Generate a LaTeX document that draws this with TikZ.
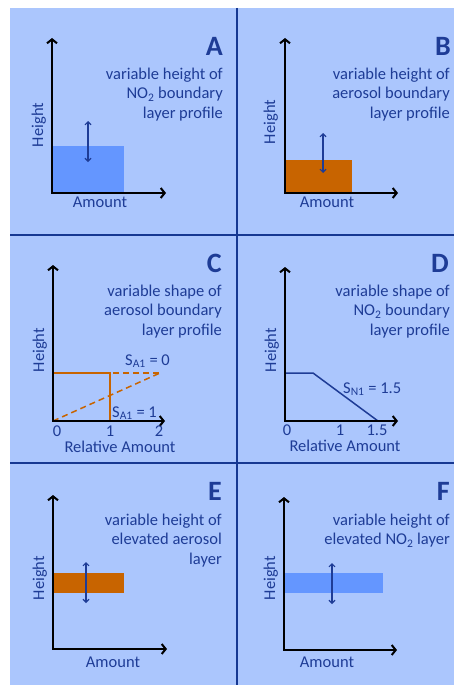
\documentclass[tikz,border=0pt]{standalone}
\usepackage{fontspec}
\setmainfont{Carlito}
\usetikzlibrary{arrows.meta}
\definecolor{panelbg}{RGB}{171,198,253}
\definecolor{divblue}{RGB}{22,56,146}
\definecolor{textblue}{RGB}{30,60,150}
\definecolor{layerblue}{RGB}{100,150,255}
\definecolor{layerorange}{RGB}{200,100,0}
\tikzset{
  axisline/.style={line width=2pt,<->,>={Straight Barb[length=4pt,width=10pt]}},
  movearrow/.style={line width=1.1pt,draw=textblue,<->,>={Straight Barb[length=3pt,width=6pt]}},
  desc/.style={font=\fontsize{16.5}{19}\selectfont,text=textblue,inner sep=0pt},
  tag/.style={font=\bfseries\fontsize{28}{30}\selectfont,text=textblue,inner sep=0pt,anchor=base east},
  heightlabel/.style={desc,rotate=90,anchor=base},
}
\begin{document}
\begin{tikzpicture}[x=1pt,y=-1pt]
\useasboundingbox (0,0) rectangle (454,685);
\fill[panelbg] (10,8) rectangle (454,685);
\draw[divblue,line width=2.2pt] (237,8) -- (237,685);
\draw[divblue,line width=2.2pt] (10,235) -- (454,235);
\draw[divblue,line width=2.2pt] (10,463) -- (454,463);
% A
\coordinate (Ay) at (52,38);
\coordinate (Ax) at (166,193);
\fill[layerblue] (52,146) rectangle (124,193);
\draw[axisline] (Ay) |- (Ax);
\coordinate (Aup) at (88,121);
\coordinate (Adn) at (88,162);
\draw[movearrow] (Aup) -- (Adn);
\node[tag] (tagA) at (223,56) {A};
\node[desc,anchor=base east] (txtA1) at (223,79) {variable height of};
\node[desc,anchor=base east] (txtA2) at (223,98.5) {NO\textsubscript{2} boundary};
\node[desc,anchor=base east] (txtA3) at (223,118) {layer profile};
\node[heightlabel] (hgtA) at (43,125) {Height};
\node[desc,anchor=base] (amtA) at (100,207) {Amount};
% B
\coordinate (By) at (285,38);
\coordinate (Bx) at (398,193);
\fill[layerorange] (285,160) rectangle (352,193);
\draw[axisline] (By) |- (Bx);
\coordinate (Bup) at (323,133);
\coordinate (Bdn) at (323,173);
\draw[movearrow] (Bup) -- (Bdn);
\node[tag] (tagB) at (451,56) {B};
\node[desc,anchor=base east] (txtB1) at (450,79) {variable height of};
\node[desc,anchor=base east] (txtB2) at (450,98.5) {aerosol boundary};
\node[desc,anchor=base east] (txtB3) at (450,118) {layer profile};
\node[heightlabel] (hgtB) at (275,122) {Height};
\node[desc,anchor=base] (amtB) at (327,207) {Amount};
% C
\coordinate (Cy) at (53,265);
\coordinate (Cx) at (165,421);
\coordinate (Ctop) at (53,373);
\coordinate (Cend) at (160,373);
\coordinate (Cfoot) at (110,421);
\draw[layerorange,line width=1.5pt] (Ctop) -| (Cfoot);
\draw[layerorange,line width=1.5pt,dash pattern=on 6pt off 4pt] (Ctop) -- (Cend);
\draw[layerorange,line width=1.5pt,dash pattern=on 6pt off 4pt] (53,421) -- (Cend);
\draw[axisline] (Cy) |- (Cx);
\node[desc,anchor=base] (c0) at (57,436.5) {0};
\node[desc,anchor=base] (c1) at (110,436.5) {1};
\node[desc,anchor=base] (c2) at (159,436.5) {2};
\node[desc,anchor=base west] (sa0) at (125,365) {S\textsubscript{A1} = 0};
\node[desc,anchor=base west] (sa1) at (112,417) {S\textsubscript{A1} = 1};
\node[tag] (tagC) at (222,272) {C};
\node[desc,anchor=base east] (txtC1) at (222,296) {variable shape of};
\node[desc,anchor=base east] (txtC2) at (222,315.5) {aerosol boundary};
\node[desc,anchor=base east] (txtC3) at (222,335) {layer profile};
\node[heightlabel] (hgtC) at (44,350) {Height};
\node[desc,anchor=base] (amtC) at (120,452.5) {Relative Amount};
% D
\coordinate (Dy) at (285,267);
\coordinate (Dx) at (398,421);
\draw[textblue,line width=1.5pt] (285,373) -- (313,373) -- (378,421);
\draw[axisline] (Dy) |- (Dx);
\node[desc,anchor=base] (d0) at (287,435) {0};
\node[desc,anchor=base] (d1) at (340,435) {1};
\node[desc,anchor=base] (d15) at (377,435) {1.5};
\node[desc,anchor=base west] (sn1) at (343,393) {S\textsubscript{N1} = 1.5};
\node[tag] (tagD) at (449,272) {D};
\node[desc,anchor=base east] (txtD1) at (450,296) {variable shape of};
\node[desc,anchor=base east] (txtD2) at (450,315.5) {NO\textsubscript{2} boundary};
\node[desc,anchor=base east] (txtD3) at (450,335) {layer profile};
\node[heightlabel] (hgtD) at (276,350) {Height};
\node[desc,anchor=base] (amtD) at (345,451) {Relative Amount};
% E
\coordinate (Ey) at (53,495);
\coordinate (Ex) at (167,649);
\fill[layerorange] (53,573) rectangle (124,593);
\draw[axisline] (Ey) |- (Ex);
\coordinate (Eup) at (86,562);
\coordinate (Edn) at (86,603);
\draw[movearrow] (Eup) -- (Edn);
\node[tag] (tagE) at (222,500) {E};
\node[desc,anchor=base east] (txtE1) at (222,525) {variable height of};
\node[desc,anchor=base east] (txtE2) at (222,544.5) {elevated aerosol};
\node[desc,anchor=base east] (txtE3) at (222,564) {layer};
\node[heightlabel] (hgtE) at (44,578) {Height};
\node[desc,anchor=base] (amtE) at (113,667) {Amount};
% F
\coordinate (Fy) at (284,497);
\coordinate (Fx) at (397,650);
\fill[layerblue] (284,573) rectangle (383,593);
\draw[axisline] (Fy) |- (Fx);
\coordinate (Fup) at (332,563);
\coordinate (Fdn) at (332,604);
\draw[movearrow] (Fup) -- (Fdn);
\node[tag] (tagF) at (450,500) {F};
\node[desc,anchor=base east] (txtF1) at (450,525) {variable height of};
\node[desc,anchor=base east] (txtF2) at (450,544.5) {elevated NO\textsubscript{2} layer};
\node[heightlabel] (hgtF) at (275,578) {Height};
\node[desc,anchor=base] (amtF) at (327,667) {Amount};
\end{tikzpicture}
\end{document}
